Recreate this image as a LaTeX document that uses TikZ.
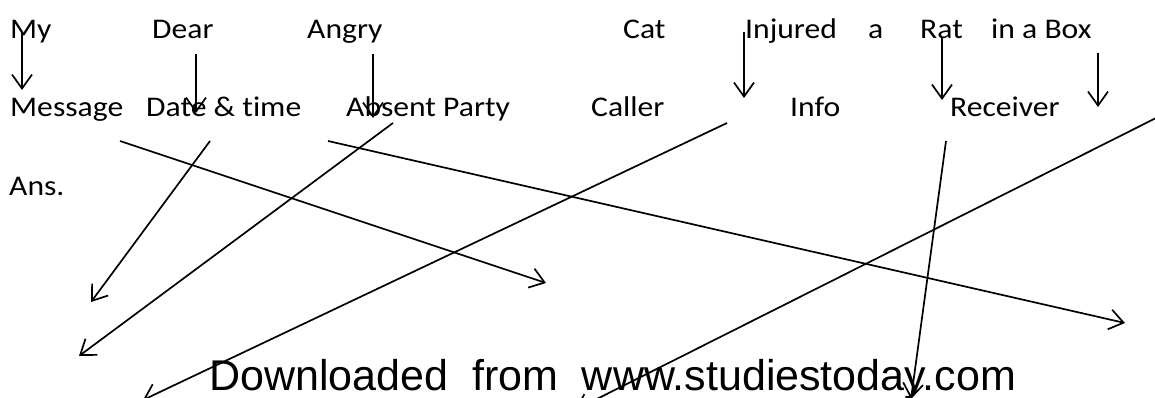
\documentclass[tikz,border=0pt]{standalone}
\usepackage{fontspec}
\setmainfont{Carlito}
\newfontfamily\wordfont[FakeStretch=1.11,Ligatures=NoCommon]{Carlito}
\newfontfamily\wmfont{Liberation Sans}
\usetikzlibrary{arrows.meta}

\begin{document}
\begin{tikzpicture}[x=1pt,y=-1pt,
  word/.style={anchor=base west,inner sep=0pt,font=\wordfont\fontsize{28.5}{30}\selectfont},
  link/.style={line width=1.7pt,-{Straight Barb[length=14pt,width=20pt,line width=1.7pt]}}]
\useasboundingbox (0,0) rectangle (1155,398);
% sentence
\node[word] (my) at (10,39) {My};
\node[word] (dear) at (152,39) {Dear};
\node[word] (angry) at (307,39) {Angry};
\node[word] (cat) at (623,39) {Cat};
\node[word] (injured) at (745,39) {Injured};
\node[word] (a) at (868,39) {a};
\node[word] (rat) at (920,39) {Rat};
\node[word] (box) at (991,39) {in a Box};
% parts of the message
\node[word] (message) at (10,117) {Message};
\node[word] (datetime) at (146,117) {Date \& time};
\node[word] (absent) at (346,117) {Absent Party};
\node[word] (caller) at (591,117) {Caller};
\node[word] (info) at (790,117) {Info};
\node[word] (receiver) at (950,117) {Receiver};
\node[word] (ans) at (9,195) {Ans.};
\node[anchor=base west,inner sep=0pt,font=\wmfont\fontsize{43}{45}\selectfont] (wm) at (209,390) {Downloaded\ \ from\ \ www.studiestoday.com};
% arrow ends
\coordinate (my-s) at (22,33);     \coordinate (my-t) at (22,90);
\coordinate (dear-s) at (196,54);  \coordinate (dear-t) at (196,113);
\coordinate (angry-s) at (373,54); \coordinate (angry-t) at (373,118);
\coordinate (inj-s) at (744,32);   \coordinate (inj-t) at (744,98);
\coordinate (rat-s) at (942,37);   \coordinate (rat-t) at (942,100);
\coordinate (box-s) at (1098,53);  \coordinate (box-t) at (1098,107);
\coordinate (mess-s) at (120,141); \coordinate (mess-t) at (546,283);
\coordinate (date-s) at (210,141); \coordinate (date-t) at (91,302);
\coordinate (abs1-s) at (393,123); \coordinate (abs1-t) at (79,356);
\coordinate (abs2-s) at (328,141); \coordinate (abs2-t) at (1125,323);
\coordinate (inf-s) at (727,123);  \coordinate (inf-t) at (143,400);
\coordinate (rec-s) at (946,141);  \coordinate (rec-t) at (911,399);
\coordinate (edge-s) at (1156,118); \coordinate (edge-t) at (575,410);
% vertical arrows
\draw[link] (my-s) -- (my-t);
\draw[link] (dear-s) -- (dear-t);
\draw[link] (angry-s) -- (angry-t);
\draw[link] (inj-s) -- (inj-t);
\draw[link] (rat-s) -- (rat-t);
\draw[link] (box-s) -- (box-t);
% crossing arrows
\draw[link] (mess-s) -- (mess-t);
\draw[link] (date-s) -- (date-t);
\draw[link] (abs1-s) -- (abs1-t);
\draw[link] (abs2-s) -- (abs2-t);
\draw[link] (inf-s) -- (inf-t);
\draw[link] (rec-s) -- (rec-t);
\draw[link] (edge-s) -- (edge-t);
\end{tikzpicture}
\end{document}
